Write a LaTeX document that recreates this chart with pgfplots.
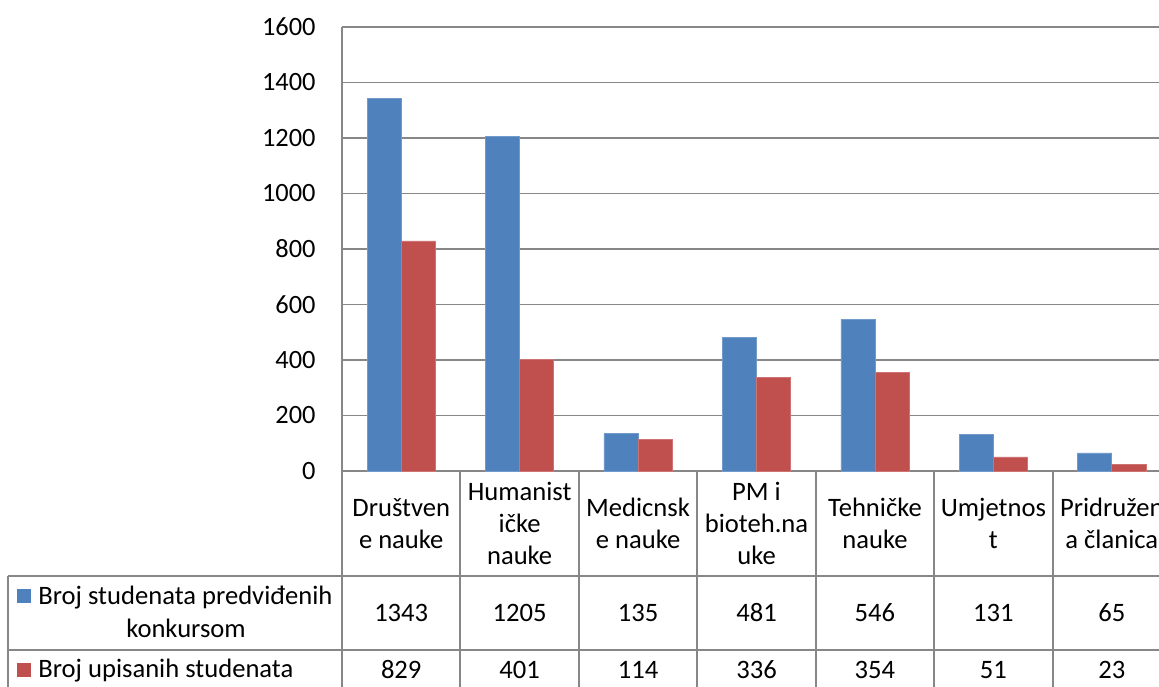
\documentclass[border=0pt]{standalone}
\usepackage{pgfplots}
\usepackage{pgfplotstable}
\pgfplotsset{compat=1.18}
\usepackage{fontspec}
\setmainfont{Carlito}
\definecolor{cblue}{HTML}{4F81BD}
\definecolor{cred}{HTML}{C0504D}
\definecolor{cgrid}{HTML}{878787}
\pgfplotstableread{
x pred upis
0.5 1343 829
1.5 1205 401
2.5 135 114
3.5 481 336
4.5 546 354
5.5 131 51
6.5 65 23
}\data
\begin{document}
\begin{tikzpicture}
\path[use as bounding box, clip] (0,0) rectangle (579.5pt,343pt);
\begin{axis}[
  at={(171pt,107.5pt)}, anchor=south west,
  width=414.5pt, height=222pt, scale only axis,
  xmin=0, xmax=7, ymin=0, ymax=1600,
  ytick={0,200,...,1600},
  xtick={0.5,1.5,...,6.5},
  xticklabels={},
  major tick length=0pt,
  axis lines=left,
  axis line style={-, draw=cgrid, line width=1pt},
  ymajorgrids, grid style={draw=cgrid, line width=0.9pt},
  yticklabel style={font=\fontsize{13.2pt}{16pt}\selectfont, inner sep=0pt, xshift=-13pt},
  /pgf/number format/assume math mode=true,
  /pgf/number format/1000 sep={},
  clip=false,
]
\addplot[ybar, bar width=0.288, bar shift=-0.144, fill=cblue, draw=cblue!80!white, line width=0.3pt] table[x=x, y=pred] {\data};
\addplot[ybar, bar width=0.288, bar shift=0.144, fill=cred, draw=cred!80!white, line width=0.3pt] table[x=x, y=upis] {\data};
\end{axis}
\begin{scope}[x=0.5pt, y=-0.5pt, yshift=343pt, font=\fontsize{13.3pt}{16pt}\selectfont]
  % table lines
  \draw[cgrid, line width=1pt] (342,471) -- (342,700);
  \foreach \k in {1,...,7} {
    \draw[cgrid, line width=1pt] ({342+118.43*\k},471) -- ({342+118.43*\k},700);
  }
  \draw[cgrid, line width=1pt] (8,576) -- (8,700);
  \draw[cgrid, line width=1pt] (8,576) -- (1180,576);
  \draw[cgrid, line width=1pt] (8,650) -- (1180,650);
  % headers
  \foreach \k/\t in {0/{Društven\\e nauke}, 1/{Humanist\\ičke\\nauke}, 2/{Medicnsk\\e nauke}, 3/{PM i\\bioteh.na\\uke}, 4/{Tehničke\\nauke}, 5/{Umjetnos\\t}, 6/{Pridružen\\a članica}} {
    \node[align=center, inner sep=0pt] at ({342+118.43*(\k+0.5)},523.5) {\t};
  }
  % values
  \foreach \k in {0,...,6} {
    \pgfplotstablegetelem{\k}{pred}\of\data
    \node[inner sep=0pt] at ({342+118.43*(\k+0.5)},613) {\pgfplotsretval};
    \pgfplotstablegetelem{\k}{upis}\of\data
    \node[inner sep=0pt] at ({342+118.43*(\k+0.5)},670) {\pgfplotsretval};
  }
  % legend
  \fill[cblue] (17,589) rectangle (31,603);
  \node[anchor=west, inner sep=0pt] at (38,598) {Broj studenata predviđenih};
  \node[inner sep=0pt] at (186,628) {konkursom};
  \fill[cred] (17,663) rectangle (31,677);
  \node[anchor=west, inner sep=0pt] at (38,671) {Broj upisanih studenata};
\end{scope}
\end{tikzpicture}
\end{document}
